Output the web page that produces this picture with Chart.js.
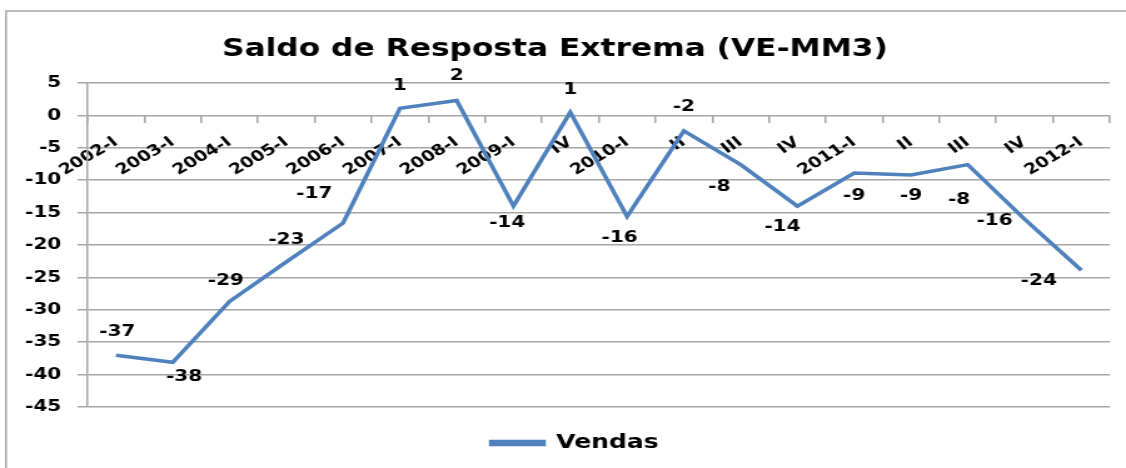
<!DOCTYPE html>
<html>
<head>
<meta charset="utf-8">
<script src="https://cdn.jsdelivr.net/npm/chart.js@4/dist/chart.umd.min.js"></script>
<style>
  html, body { margin: 0; padding: 0; background: #ffffff; }
  #c { display: block; width: 1126px; height: 468px; }
</style>
</head>
<body>
<canvas id="c" width="900" height="468" style="width:1126px;height:468px"></canvas>
<script>
// ---- data ----
const categories = ['2002-I','2003-I','2004-I','2005-I','2006-I','2007-I','2008-I','2009-I','IV','2010-I','II','III','IV','2011-I','II','III','IV','2012-I'];
const vendas = [-37.0,-38.1,-28.7,-22.6,-16.6,1.1,2.3,-14.0,0.5,-15.6,-2.4,-7.6,-14.0,-8.9,-9.2,-7.6,-16.0,-23.9];
const seriesName = 'Vendas';
const chartTitle = 'Saldo de Resposta Extrema (VE-MM3)';
const yMin = -45, yMax = 5, yStep = 5;

// ---- data label placement (style) ----
const labelDx = [1, 9, -3, 0, -23, 0, 0, -5, 0, -6, 0, -17, -12, 0, 0, -7, -24, -34];
const labelDy = [-23, 15, -21, -22, -29, -22, -25, 17, -22, 21, -24, 22, 21, 23, 21, 35, 2, 11];

const FONT = "'DejaVu Sans', Verdana, sans-serif";
const GRID = '#a6a6a6';
const BLUE = '#4f81bd';

const framePlugin = {
  id: 'frame',
  beforeDraw(chart) {
    const ctx = chart.ctx;
    ctx.save();
    ctx.fillStyle = '#ffffff';
    ctx.fillRect(0, 0, chart.width, chart.height);
    ctx.strokeStyle = '#a6a6a6';
    ctx.lineWidth = 1.5;
    ctx.strokeRect(4.8, 11, chart.width + 20, chart.height + 20);
    ctx.restore();
  }
};

const legendShift = {
  id: 'legendShift',
  afterLayout(chart) {
    const lg = chart.legend;
    if (lg) { lg.left += 16; lg.right += 16; }
  }
};

const dataLabels = {
  id: 'dataLabels',
  afterDatasetsDraw(chart) {
    const ctx = chart.ctx;
    const meta = chart.getDatasetMeta(0);
    ctx.save();
    ctx.font = "bold 16px " + FONT;
    ctx.fillStyle = '#000000';
    ctx.textAlign = 'center';
    ctx.textBaseline = 'middle';
    meta.data.forEach((pt, i) => {
      const v = chart.data.datasets[0].data[i];
      ctx.fillText(String(Math.round(v)), pt.x + labelDx[i], pt.y + labelDy[i]);
    });
    ctx.restore();
  }
};

new Chart(document.getElementById('c'), {
  type: 'line',
  data: {
    labels: categories,
    datasets: [{
      label: seriesName,
      data: vendas,
      borderColor: BLUE,
      backgroundColor: BLUE,
      borderWidth: 3.5,
      pointRadius: 0,
      tension: 0,
      fill: false
    }]
  },
  options: {
    responsive: false,
    animation: false,
    layout: { padding: { top: 34, right: 13, bottom: 5, left: 0 } },
    plugins: {
      tooltip: { enabled: false },
      title: {
        display: true,
        text: chartTitle,
        color: '#000000',
        font: { family: FONT, size: 25, weight: 'bold' },
        padding: { top: 0, bottom: 19 }
      },
      legend: {
        display: true,
        position: 'bottom',
        labels: {
          color: '#000000',
          font: { family: FONT, size: 20, weight: 'bold' },
          boxWidth: 42,
          boxHeight: 3,
          padding: 26
        }
      }
    },
    scales: {
      x: {
        type: 'category',
        offset: true,
        position: { y: 0 },
        grid: {
          offset: true,
          drawOnChartArea: false,
          drawTicks: true,
          tickLength: 8,
          color: GRID,
          lineWidth: 1.5
        },
        border: { display: false },
        ticks: {
          autoSkip: false,
          maxRotation: 36,
          minRotation: 36,
          padding: 10,
          color: '#000000',
          font: { family: FONT, size: 15, weight: 'bold' }
        }
      },
      y: {
        min: yMin,
        max: yMax,
        afterFit(scale) { scale.width = 70; },
        grid: {
          color: GRID,
          lineWidth: 1.5,
          drawTicks: true,
          tickLength: 8
        },
        border: { display: true, color: GRID, width: 1.5 },
        ticks: {
          stepSize: yStep,
          padding: 13,
          color: '#000000',
          font: { family: FONT, size: 16, weight: 'bold' }
        }
      }
    }
  },
  plugins: [framePlugin, legendShift, dataLabels]
});
</script>
</body>
</html>
